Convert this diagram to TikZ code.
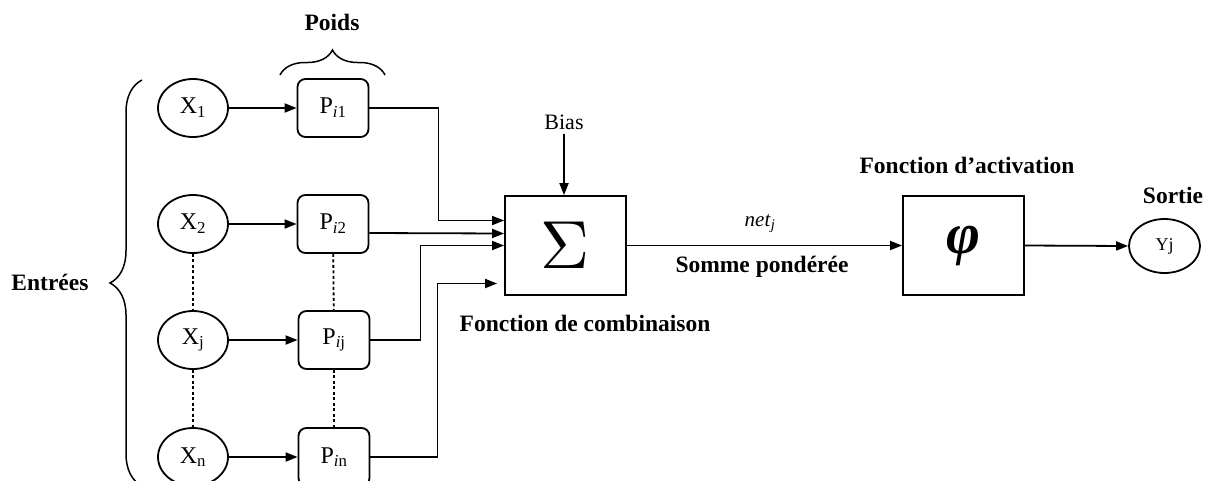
\documentclass[tikz,border=0pt]{standalone}
\usepackage{fontspec}
\setmainfont{Liberation Serif}
\usetikzlibrary{arrows.meta,decorations.pathreplacing,calc,shapes.geometric}
\begin{document}
\begin{tikzpicture}[x=1pt,y=-1pt,
  line width=1.8pt,
  inp/.style={draw,ellipse,minimum width=70pt,minimum height=58pt,inner sep=0pt,font=\fontsize{24}{28}\selectfont},
  wbox/.style={draw,rounded corners=8pt,minimum width=71pt,minimum height=58pt,inner sep=0pt,font=\fontsize{24}{28}\selectfont},
  fbox/.style={draw,minimum width=121pt,minimum height=99pt,inner sep=0pt},
  lbl/.style={font=\fontsize{23.5}{26}\selectfont\bfseries},
  arr/.style={-{Triangle[length=12pt,width=9pt]}},
  dots/.style={dash pattern=on 3pt off 2.5pt},
  brc/.style={decorate,decoration={brace,amplitude=#1}}
]
\useasboundingbox (0,0) rectangle (1210,480);

% inputs
\node[inp] (x1) at (193,108) {X\textsubscript{1}};
\node[inp] (x2) at (193,224) {X\textsubscript{2}};
\node[inp] (xj) at (193,340) {X\textsubscript{j}};
\node[inp] (xn) at (193,457) {X\textsubscript{n}};

% weights
\node[wbox] (p1) at (333,108) {P\textsubscript{\textit{i}1}};
\node[wbox] (p2) at (333,224) {P\textsubscript{\textit{i}2}};
\node[wbox] (pj) at (334,340) {P\textsubscript{\textit{i}j}};
\node[wbox] (pn) at (334,457) {P\textsubscript{\textit{i}n}};

% function boxes
\node[fbox] (sig) at (565.5,245.5) {\scalebox{6.8}{$\Sigma$}};
\node[fbox,font=\fontsize{58}{58}\selectfont\bfseries\itshape] (phi) at (963.5,245.5) {φ};
\node[draw,ellipse,minimum width=71pt,minimum height=54pt,inner sep=0pt,font=\fontsize{18}{20}\selectfont] (yj) at (1164.5,246) {Yj};

% labels
\node[font=\fontsize{22}{26}\selectfont] (bias) at (564,122) {Bias};
\node[lbl] (poids) at (332,22) {Poids};
\node[lbl] (entrees) at (50,282) {Entrées};
\node[lbl] (comb) at (585,323) {Fonction de combinaison};
\node[lbl] (somme) at (762,267) {Somme pondérée};
\node[lbl] (activ) at (967,165) {Fonction d'activation};
\node[lbl] (sortie) at (1173,195) {Sortie};
\node[font=\fontsize{21}{24}\selectfont] (net) at (760,224) {\textit{net}\textsubscript{\textit{j}}};

% braces
\draw[brc=32pt,line width=1.5pt] (142,486) -- (142,80);
\draw[brc=25pt,line width=1.5pt] (280,75) -- (385,75);

% x -> p
\draw[arr] (x1) -- (p1);
\draw[arr] (x2) -- (p2);
\draw[arr] (xj) -- (pj);
\draw[arr] (xn) -- (pn);

% dotted
\draw[dots] (x2) -- (xj);
\draw[dots] (xj) -- (xn);
\draw[dots] (p2) -- (pj);
\draw[dots] (pj) -- (pn);

% p -> sigma
\draw[arr] (p1.east) -- ++(69,0) |- ($(sig.west)+(0,-25)$);
\draw[arr] ($(p2.east)+(0,9)$) -- ($(sig.west)+(0,-12)$);
\draw[arr] (pj.east) -- ++(50,0) |- (sig.west);
\draw[arr] (pn.east) -- ++(67,0) |- ($(sig.west)+(-7,38)$);

% bias
\draw[arr] (bias) -- (bias |- sig.north);

% chain
\draw[arr] (sig.east) -- (phi.west);
\draw[arr] (phi.east) -- (yj.west);
\end{tikzpicture}
\end{document}
